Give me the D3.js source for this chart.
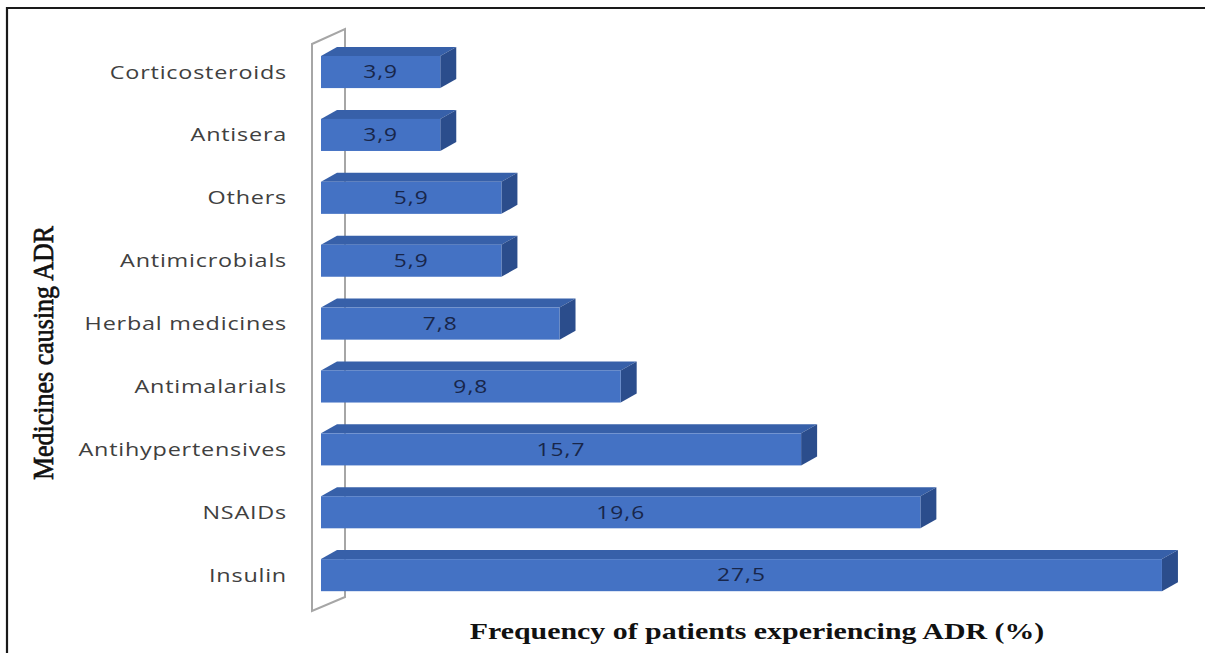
<!DOCTYPE html>
<html>
<head>
<meta charset="utf-8">
<script src="https://cdn.jsdelivr.net/npm/d3@7"></script>
<style>
  html, body { margin: 0; padding: 0; background: #ffffff; }
  svg { display: block; }
</style>
</head>
<body>
<svg id="chart" width="1205" height="653"></svg>
<script>
// Medicines causing adverse drug reactions, listed top to bottom
const categories = ["Corticosteroids", "Antisera", "Others", "Antimicrobials",
  "Herbal medicines", "Antimalarials", "Antihypertensives", "NSAIDs", "Insulin"];
// Share of patients experiencing an ADR (%)
const values = [3.9, 3.9, 5.9, 5.9, 7.8, 9.8, 15.7, 19.6, 27.5];
const valueLabels = ["3,9", "3,9", "5,9", "5,9", "7,8", "9,8", "15,7", "19,6", "27,5"];
const xTitle = "Frequency of patients experiencing ADR (%)";
const yTitle = "Medicines causing ADR";

const svg = d3.select("#chart");
const stretch = 1.3;           // text is set slightly wide
const depthX = 16, depthY = 9; // 3D bar depth

const x = d3.scaleLinear().domain([0, 30]).range([321, 321 + 30 * 30.58]);
const y = d3.scaleBand().domain(categories).range([40.6, 606.6])
  .paddingInner(0.49).paddingOuter(0.245);

// frame
svg.append("path")
  .attr("d", "M7,653 L7,8 L1205,8")
  .attr("fill", "none").attr("stroke", "#1a1a1a").attr("stroke-width", 2.2);

// back wall of the category axis
const wx = x(0) - 9, wTop = 44, wBot = 611, wdx = 33, wdy = 15;
svg.append("path")
  .attr("d", `M${wx},${wTop} L${wx + wdx},${wTop - wdy} L${wx + wdx},${wBot - wdy + 1} L${wx},${wBot} Z`)
  .attr("fill", "none").attr("stroke", "#a6a6a6").attr("stroke-width", 2);

// bars
const bars = svg.append("g").selectAll("g").data(categories).join("g");
bars.each(function (c, i) {
  const g = d3.select(this);
  const x0 = x(0), x1 = x(values[i]);
  const yt = y(c), h = y.bandwidth();
  g.append("path")
    .attr("d", `M${x0},${yt} L${x0 + depthX},${yt - depthY} L${x1 + depthX},${yt - depthY} L${x1},${yt} Z`)
    .attr("fill", "#3760a9");
  g.append("path")
    .attr("d", `M${x1},${yt} L${x1 + depthX},${yt - depthY} L${x1 + depthX},${yt + h - depthY} L${x1},${yt + h} Z`)
    .attr("fill", "#2b4d8c");
  g.append("rect")
    .attr("x", x0).attr("y", yt).attr("width", x1 - x0).attr("height", h)
    .attr("fill", "#4472c4");
  g.append("text")
    .attr("transform", `translate(${(x0 + x1) / 2},${yt + h / 2}) scale(${stretch},1)`)
    .attr("text-anchor", "middle").attr("dy", "0.36em")
    .attr("font-family", "Open Sans, sans-serif").attr("font-size", 17.5)
    .attr("letter-spacing", 0.8)
    .attr("fill", "#18264a")
    .text(valueLabels[i]);
});

// category labels
svg.append("g").selectAll("text").data(categories).join("text")
  .attr("transform", d => `translate(287,${y(d) + y.bandwidth() / 2}) scale(${stretch},1)`)
  .attr("text-anchor", "end").attr("dy", "0.36em")
  .attr("font-family", "Open Sans, sans-serif").attr("font-size", 18)
  .attr("letter-spacing", 0.6)
  .attr("fill", "#404040")
  .text(d => d);

// axis titles
svg.append("text")
  .attr("transform", `translate(757,639) scale(${stretch},1)`)
  .attr("text-anchor", "middle")
  .attr("font-family", "Liberation Serif, serif").attr("font-weight", "bold")
  .attr("font-size", 23).attr("fill", "#111")
  .text(xTitle);

svg.append("text")
  .attr("transform", `translate(53,353) scale(1.12,1) rotate(-90)`)
  .attr("text-anchor", "middle")
  .attr("font-family", "Liberation Serif, serif")
  .attr("font-size", 26).attr("fill", "#111")
  .attr("stroke", "#111").attr("stroke-width", 0.6)
  .text(yTitle);
</script>
</body>
</html>
